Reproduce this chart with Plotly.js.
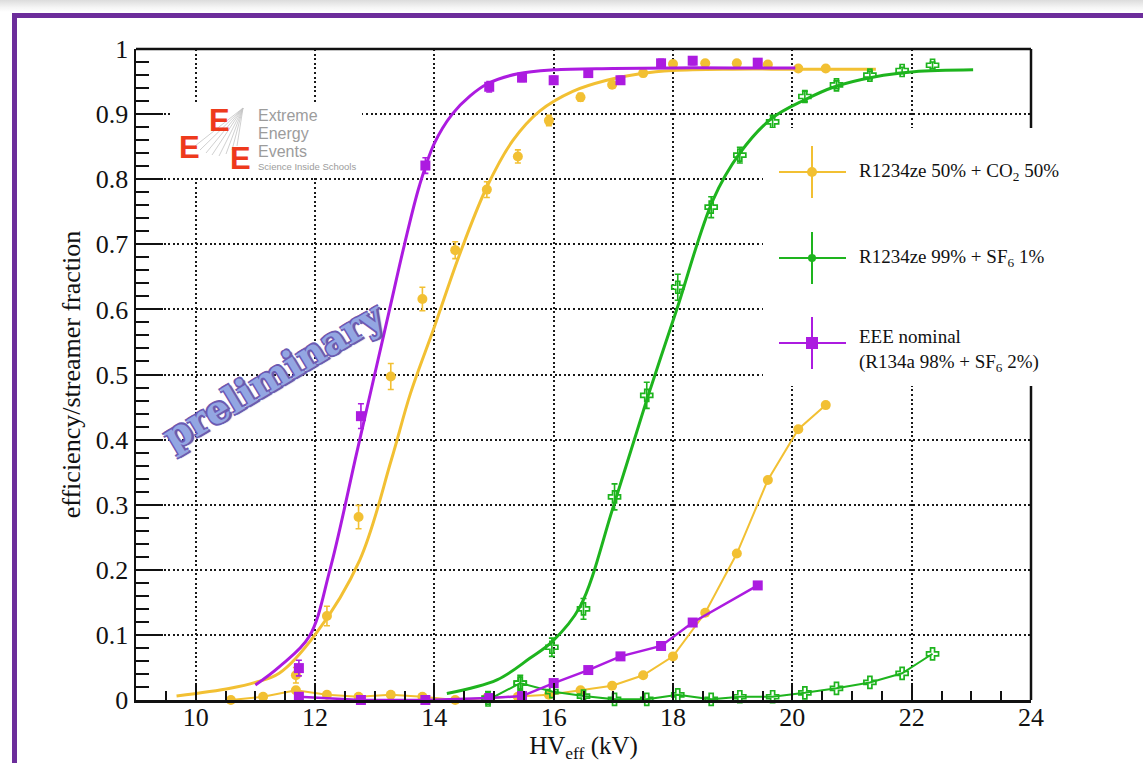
<!DOCTYPE html>
<html><head><meta charset="utf-8">
<script src="https://cdn.plot.ly/plotly-3.0.1.min.js"></script>
<style>
html,body{margin:0;padding:0;background:#fff;width:1143px;height:763px;overflow:hidden;}
#shade{position:absolute;left:0;top:0;width:1143px;height:12px;background:linear-gradient(#dcdcdc,#f4f4f4 60%,#fff);}
#chart{position:absolute;left:0;top:0;width:1143px;height:763px;}
#frame{position:absolute;left:12px;top:13px;width:1131px;height:760px;border-left:5px solid #6c2d9b;border-top:5px solid #6c2d9b;box-sizing:border-box;pointer-events:none;}
</style></head>
<body>
<div id="shade"></div>
<div id="chart"></div>
<div id="frame"></div>
<script>
// ---------------- data ----------------
// R1234ze 50% + CO2 50%
const yelX      = [10.59, 11.13, 11.68, 12.2, 12.73, 13.27, 13.8, 14.35, 14.88, 15.4, 15.92, 16.45, 16.98, 17.5, 18.0, 18.54, 19.07, 19.59, 20.1, 20.56];
const yelEff    = [null, null, 0.038, 0.129, 0.281, 0.497, 0.616, 0.691, 0.784, 0.835, 0.89, 0.926, 0.945, 0.963, 0.977, 0.978, 0.978, 0.976, 0.97, 0.97];
const yelEffErr = [0, 0, 0.012, 0.015, 0.018, 0.02, 0.018, 0.013, 0.012, 0.01, 0.008, 0.006, 0.005, 0.005, 0.004, 0.004, 0.004, 0.004, 0.004, 0.004];
const yelStr    = [0.0, 0.005, 0.015, 0.008, 0.005, 0.008, 0.005, 0.0, 0.003, 0.005, 0.008, 0.015, 0.022, 0.038, 0.067, 0.134, 0.225, 0.338, 0.416, 0.453];
const yelFitX   = [9.68, 10.58, 11.0, 11.4, 12.0, 12.75, 13.28, 13.6, 14.0, 14.43, 14.88, 15.32, 15.77, 16.32, 16.89, 17.45, 18.0, 19.0, 20.0, 21.4];
const yelFitY   = [0.006, 0.018, 0.027, 0.041, 0.10, 0.215, 0.369, 0.471, 0.573, 0.686, 0.788, 0.86, 0.905, 0.935, 0.952, 0.962, 0.967, 0.969, 0.969, 0.969];

// R1234ze 99% + SF6 1%
const grnX      = [14.9, 15.44, 15.97, 16.5, 17.02, 17.56, 18.08, 18.64, 19.12, 19.67, 20.21, 20.74, 21.3, 21.84, 22.35];
const grnEff    = [0.003, 0.026, 0.081, 0.14, 0.312, 0.468, 0.634, 0.757, 0.837, 0.888, 0.927, 0.945, 0.96, 0.967, 0.975];
const grnEffErr = [0.01, 0.012, 0.014, 0.016, 0.02, 0.02, 0.02, 0.016, 0.012, 0.01, 0.008, 0.006, 0.006, 0.005, 0.005];
const grnStr    = [0.0, 0.026, 0.013, 0.006, 0.001, 0.001, 0.008, 0.001, 0.005, 0.005, 0.011, 0.018, 0.027, 0.041, 0.071];
const grnFitX   = [14.21, 15.05, 15.6, 15.98, 16.44, 17.0, 17.56, 18.06, 18.67, 19.12, 19.65, 20.21, 20.71, 21.37, 22.04, 23.03];
const grnFitY   = [0.010, 0.031, 0.064, 0.09, 0.143, 0.297, 0.461, 0.599, 0.768, 0.840, 0.893, 0.922, 0.942, 0.957, 0.965, 0.968];

// EEE nominal (R134a 98% + SF6 2%)
const purX      = [11.73, 12.77, 13.85, 14.92, 15.47, 16.0, 16.58, 17.12, 17.8, 18.33, 19.42];
const purEff    = [0.049, 0.436, 0.821, 0.942, 0.956, 0.952, 0.963, 0.952, 0.978, 0.982, 0.979];
const purEffErr = [0.012, 0.019, 0.012, 0.008, 0.006, 0.006, 0.006, 0.006, 0.006, 0.006, 0.006];
const purStr    = [0.005, 0.0, 0.0, 0.003, 0.006, 0.026, 0.046, 0.067, 0.083, 0.119, 0.176];
const purFitX   = [11.0, 11.4, 11.9, 12.25, 12.7, 13.0, 13.25, 13.5, 13.75, 14.0, 14.3, 14.6, 14.9, 15.4, 16.0, 17.0, 18.0, 19.0, 20.05];
const purFitY   = [0.023, 0.051, 0.097, 0.20, 0.38, 0.50, 0.60, 0.70, 0.79, 0.855, 0.90, 0.928, 0.947, 0.962, 0.968, 0.970, 0.971, 0.971, 0.971];

// labels
const seriesNames = ['R1234ze 50% + CO<sub>2</sub> 50%', 'R1234ze 99% + SF<sub>6</sub> 1%', 'EEE nominal<br>(R134a 98% + SF<sub>6</sub> 2%)'];
const xTickVals = [10, 12, 14, 16, 18, 20, 22, 24];
const xTickText = ['10', '12', '14', '16', '18', '20', '22', '24'];
const yTickVals = [0, 0.1, 0.2, 0.3, 0.4, 0.5, 0.6, 0.7, 0.8, 0.9, 1];
const yTickText = ['0', '0.1', '0.2', '0.3', '0.4', '0.5', '0.6', '0.7', '0.8', '0.9', '1'];
const xTitle = 'HV<sub>eff</sub> (kV)';
const yTitle = 'efficiency/streamer fraction';
const watermark = 'preliminary';
const logoLines = ['Extreme', 'Energy', 'Events', 'Science Inside Schools'];

// ---------------- styling ----------------
const YEL = '#F2C033', GRN = '#1EB41E', PUR = '#AC1BE0';
const SERIF = 'Liberation Serif, Times New Roman, serif';
const SANS = 'Liberation Sans, Arial, sans-serif';
// pixel -> paper helpers for decorations (plot area: x 136..1031, y 49..700)
const PX = p => (p - 136) / 895;
const PY = p => (700 - p) / 651;

function errStyle(c, arr) { return {type: 'data', array: arr, visible: true, color: c, thickness: 1.6, width: 3}; }
const crossMarker = {symbol: 'cross-open', size: 10, color: GRN, line: {color: GRN, width: 1.7}};

const traces = [
  // yellow
  {x: yelX, y: yelStr, mode: 'lines+markers', cliponaxis: false, line: {color: YEL, width: 2}, marker: {symbol: 'circle', size: 10, color: YEL}, showlegend: false, hoverinfo: 'skip'},
  {x: yelFitX, y: yelFitY, mode: 'lines', line: {color: YEL, width: 3, shape: 'spline', smoothing: 1}, showlegend: false, hoverinfo: 'skip'},
  {x: yelX, y: yelEff, mode: 'markers', marker: {symbol: 'circle', size: 10, color: YEL}, error_y: errStyle(YEL, yelEffErr), showlegend: false, hoverinfo: 'skip'},
  // green
  {x: grnX, y: grnStr, mode: 'lines+markers', cliponaxis: false, line: {color: GRN, width: 2}, marker: crossMarker, showlegend: false, hoverinfo: 'skip'},
  {x: grnFitX, y: grnFitY, mode: 'lines', line: {color: GRN, width: 3, shape: 'spline', smoothing: 1}, showlegend: false, hoverinfo: 'skip'},
  {x: grnX, y: grnEff, mode: 'markers', cliponaxis: false, marker: crossMarker, error_y: errStyle(GRN, grnEffErr), showlegend: false, hoverinfo: 'skip'},
  // purple
  {x: purX, y: purStr, mode: 'lines+markers', cliponaxis: false, line: {color: PUR, width: 2.5}, marker: {symbol: 'square', size: 10, color: PUR}, showlegend: false, hoverinfo: 'skip'},
  {x: purFitX, y: purFitY, mode: 'lines', line: {color: PUR, width: 3, shape: 'spline', smoothing: 1}, showlegend: false, hoverinfo: 'skip'},
  {x: purX, y: purEff, mode: 'markers', marker: {symbol: 'square', size: 10, color: PUR}, error_y: errStyle(PUR, purEffErr), showlegend: false, hoverinfo: 'skip'}
];

const axisCommon = {
  ticks: 'inside', tickwidth: 2, tickcolor: '#111',
  showline: true, linecolor: '#111', linewidth: 2.5, mirror: false,
  showgrid: true, gridcolor: '#1a1a1a', gridwidth: 2, griddash: '2px,2.6px',
  zeroline: false, fixedrange: true, layer: 'above traces',
  tickfont: {family: SERIF, size: 26, color: '#111'}
};

const shapes = [];
// white boxes hiding the grid (logo and legend)
shapes.push({type: 'rect', xref: 'paper', yref: 'paper', x0: PX(170), x1: PX(362), y0: PY(176), y1: PY(102), fillcolor: '#fff', line: {width: 0}, layer: 'above'});
shapes.push({type: 'rect', xref: 'paper', yref: 'paper', x0: PX(763), x1: PX(1062), y0: PY(386), y1: PY(128), fillcolor: '#fff', line: {width: 0}, layer: 'above'});
// frame: top and right (right interrupted by legend)
shapes.push({type: 'line', xref: 'paper', yref: 'paper', x0: 0, x1: 1, y0: 1, y1: 1, line: {color: '#111', width: 2.5}, layer: 'above'});
shapes.push({type: 'line', xref: 'paper', yref: 'paper', x0: 1, x1: 1, y0: 0, y1: PY(386), line: {color: '#111', width: 2.5}, layer: 'above'});
shapes.push({type: 'line', xref: 'paper', yref: 'paper', x0: 1, x1: 1, y0: PY(128), y1: 1, line: {color: '#111', width: 2.5}, layer: 'above'});
// logo fan lines
[[195,146],[200,150],[206,153],[212,155],[219,156],[226,154],[232,150],[237,146]].forEach(e => {
  shapes.push({type: 'line', xref: 'paper', yref: 'paper', x0: PX(243), y0: PY(108), x1: PX(e[0]), y1: PY(e[1]), line: {color: '#c4c4c4', width: 0.8}, layer: 'above'});
});
// legend symbols
const legCols = [YEL, GRN, PUR];
const legY = [172, 258, 343];
legY.forEach((yy, i) => {
  const c = legCols[i];
  shapes.push({type: 'line', xref: 'paper', yref: 'paper', x0: PX(779), x1: PX(846), y0: PY(yy), y1: PY(yy), line: {color: c, width: 2}, layer: 'above'});
  shapes.push({type: 'line', xref: 'paper', yref: 'paper', x0: PX(812), x1: PX(812), y0: PY(yy - 26), y1: PY(yy + 26), line: {color: c, width: 2}, layer: 'above'});
});
shapes.push({type: 'circle', xref: 'paper', yref: 'paper', x0: PX(807), x1: PX(817), y0: PY(177), y1: PY(167), fillcolor: YEL, line: {width: 0}, layer: 'above'});
shapes.push({type: 'circle', xref: 'paper', yref: 'paper', x0: PX(808), x1: PX(816), y0: PY(262), y1: PY(254), fillcolor: GRN, line: {width: 0}, layer: 'above'});
shapes.push({type: 'rect', xref: 'paper', yref: 'paper', x0: PX(806), x1: PX(818), y0: PY(349), y1: PY(337), fillcolor: PUR, line: {width: 0}, layer: 'above'});

const annotations = [];
// legend texts
annotations.push({xref: 'paper', yref: 'paper', x: PX(857), y: PY(172), xanchor: 'left', yanchor: 'middle', text: seriesNames[0], showarrow: false, font: {family: SERIF, size: 19, color: '#111'}});
annotations.push({xref: 'paper', yref: 'paper', x: PX(857), y: PY(258), xanchor: 'left', yanchor: 'middle', text: seriesNames[1], showarrow: false, font: {family: SERIF, size: 19, color: '#111'}});
annotations.push({xref: 'paper', yref: 'paper', x: PX(857), y: PY(350), xanchor: 'left', yanchor: 'middle', align: 'left', text: seriesNames[2], showarrow: false, font: {family: SERIF, size: 19, color: '#111'}});
// logo
[[219,121],[189,147],[240,158]].forEach(p => {
  annotations.push({xref: 'paper', yref: 'paper', x: PX(p[0]), y: PY(p[1]), xanchor: 'center', yanchor: 'middle', text: 'E', showarrow: false, font: {family: SANS, size: 31, weight: 'bold', color: '#EE3A1C'}});
});
const logoY = [115, 133, 151, 166];
const logoSize = [16, 16, 16, 9.5];
logoLines.forEach((t, i) => {
  annotations.push({xref: 'paper', yref: 'paper', x: PX(256), y: PY(logoY[i]), xanchor: 'left', yanchor: 'middle', text: t, showarrow: false, font: {family: SANS, size: logoSize[i], color: '#9c9c9c'}});
});
// watermark
annotations.push({xref: 'paper', yref: 'paper', x: PX(273), y: PY(375), xanchor: 'center', yanchor: 'middle', text: watermark, textangle: -31, showarrow: false,
  font: {family: 'DejaVu Serif, serif', size: 38, weight: 'bold', color: '#93A6E2',
         shadow: '-1.5px -1.5px 0 #6B5BB2, 1.5px -1.5px 0 #6B5BB2, -1.5px 1.5px 0 #6B5BB2, 1.5px 1.5px 0 #6B5BB2, 2px 2px 1px #5a4a9a'}});

const layout = {
  width: 1143, height: 763,
  margin: {l: 136, r: 112, t: 49, b: 63, autoexpand: false},
  paper_bgcolor: 'rgba(255,255,255,0)', plot_bgcolor: '#fff',
  showlegend: false,
  xaxis: Object.assign({}, axisCommon, {
    range: [9, 24], tickmode: 'array', tickvals: xTickVals, ticktext: xTickText, ticklen: 17, ticklabelstandoff: -8,
    minor: {tickmode: 'linear', tick0: 0, dtick: 0.5, ticks: 'inside', ticklen: 9, tickwidth: 2, tickcolor: '#111', showgrid: false},
    title: {text: xTitle, font: {family: SERIF, size: 25, color: '#111'}, standoff: 14}
  }),
  yaxis: Object.assign({}, axisCommon, {
    range: [0, 1], tickmode: 'array', tickvals: yTickVals, ticktext: yTickText, ticklen: 27,
    minor: {tickmode: 'linear', tick0: 0, dtick: 0.02, ticks: 'inside', ticklen: 13, tickwidth: 2, tickcolor: '#111', showgrid: false},
    title: {text: yTitle, font: {family: SERIF, size: 26, color: '#111'}, standoff: 8}
  }),
  shapes: shapes,
  annotations: annotations
};

Plotly.newPlot('chart', traces, layout, {displayModeBar: false, staticPlot: true});
</script>
</body></html>
